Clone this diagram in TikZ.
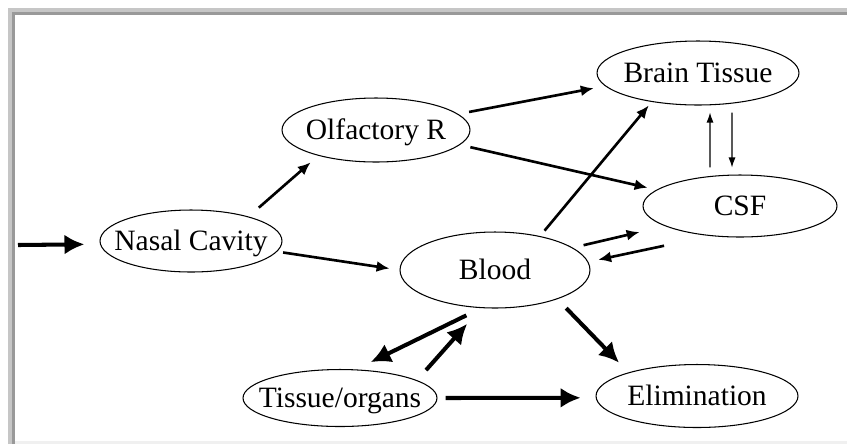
\documentclass[tikz,border=0pt]{standalone}
\usepackage{fontspec}
\setmainfont{Liberation Serif}
\usetikzlibrary{shapes.geometric,arrows.meta}
\newcommand{\lbl}[1]{\makebox[0pt]{#1}}% label does not widen the ellipse

\begin{document}
\begin{tikzpicture}[x=0.02cm,y=-0.02cm,
	comp/.style={draw,ellipse,line width=0.6pt,inner sep=0pt,font=\fontsize{16.8}{20}\selectfont,text height=11.1pt,text depth=0pt},
	bigarrow/.style={-{Latex[length=0.4cm,width=0.4cm]},line width=2.3pt},
	midarrow/.style={-{Latex[length=0.26cm,width=0.22cm]},line width=1.5pt},
	smallarrow/.style={-{Latex[length=0.2cm,width=0.14cm]},line width=0.6pt}]
	\useasboundingbox (0,0) rectangle (847,444);
	
	%frame
	\draw[gray!45,line width=0.08cm] (10,444)--(10,10)--(847,10);
	\draw[gray!80,line width=0.06cm] (13.5,444)--(13.5,13.5)--(847,13.5);
	\draw[gray!12,line width=0.06cm] (15,442)--(847,442);
	
	%compartments
	\node[comp,minimum width=3.64cm,minimum height=1.24cm] (nasal) at (191,241) {\lbl{Nasal Cavity}};
	\node[comp,minimum width=3.76cm,minimum height=1.28cm] (olf)   at (376,130) {\lbl{Olfactory R}};
	\node[comp,minimum width=4.04cm,minimum height=1.28cm] (brain) at (698,73)  {\lbl{Brain Tissue}};
	\node[comp,minimum width=3.88cm,minimum height=1.24cm] (csf)   at (740,206) {\lbl{CSF}};
	\node[comp,minimum width=3.80cm,minimum height=1.52cm] (blood) at (495,270) {\lbl{Blood}};
	\node[comp,minimum width=3.88cm,minimum height=1.14cm] (tissue) at (340,398) {\lbl{Tissue/organs}};
	\node[comp,minimum width=4.04cm,minimum height=1.26cm] (elim)  at (697,396) {\lbl{Elimination}};
	\coordinate (dose) at (18,245);
	
	%dosing
	\draw[bigarrow,shorten >=0.31cm] (dose)--(nasal.182.5);
	
	%from the nose
	\draw[midarrow,shorten <=0.27cm,shorten >=0.2cm]  (nasal.23.1)--(olf.204.4);
	\draw[midarrow,shorten <=0.12cm,shorten >=0.2cm]  (nasal.-7.5)--(blood.180);
	\draw[midarrow,shorten <=0.22cm,shorten >=0.23cm] (olf.11.2)--(brain.188.8);
	\draw[midarrow,shorten <=0.21cm,shorten >=0.18cm] (olf.-10.9)--(csf.169.1);
	
	%blood, brain and CSF
	\draw[midarrow,shorten <=0.14cm,shorten >=0.09cm] (blood.37.8)--(brain.212.4);
	\draw[midarrow,shorten <=0.22cm,shorten >=0.52cm] (blood.16.6)--(csf.195.7);
	\draw[midarrow,shorten <=0.94cm,shorten >=0.2cm]  (csf.225.4)--(blood.5.6);
	\draw[smallarrow,shorten <=0.14cm,shorten >=0.14cm] ([xshift=-0.6cm]csf.north)--([xshift=0.24cm]brain.south);
	\draw[smallarrow,shorten <=0.14cm,shorten >=0.14cm] ([xshift=0.68cm]brain.south)--([xshift=-0.16cm]csf.north);
	
	%distribution and elimination
	\draw[bigarrow,shorten <=0.33cm,shorten >=0.33cm] (blood.250.8)--(tissue.61.2);
	\draw[bigarrow,shorten <=0.27cm,shorten >=0.42cm] (tissue.13.9)--(blood.250.1);
	\draw[bigarrow,shorten <=0.25cm,shorten >=0.27cm] (blood.-25.3)--(elim.161.7);
	\draw[bigarrow,shorten <=0.16cm,shorten >=0.3cm]  (tissue.east)--(elim.181);
	
\end{tikzpicture}
\end{document}
